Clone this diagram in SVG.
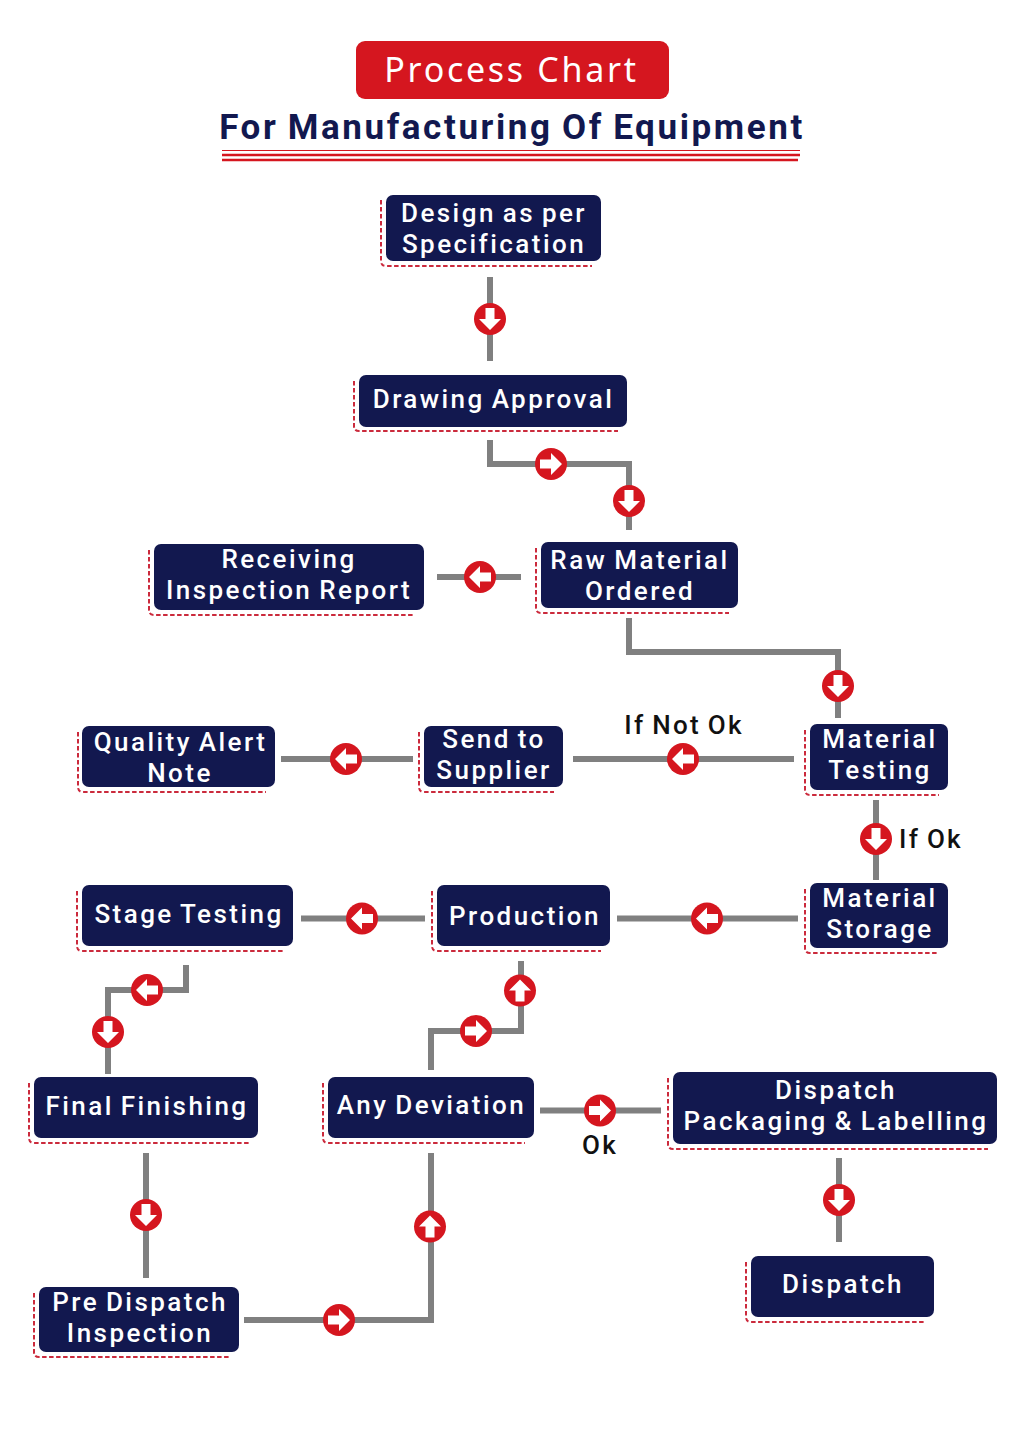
<svg xmlns="http://www.w3.org/2000/svg" xmlns:xlink="http://www.w3.org/1999/xlink" width="1024" height="1448" viewBox="0 0 1024 1448">
<style>
text{font-family:Roboto,"Liberation Sans",sans-serif;text-anchor:middle}
.box{fill:#12184f}
.dash{fill:none;stroke:#cb2a3c;stroke-width:2;stroke-dasharray:4.500 2.500}
.t{fill:#fff;font-size:26px;font-weight:500;letter-spacing:2.45px;word-spacing:-2px}
.l{fill:#111;font-size:26px;font-weight:500;letter-spacing:2.3px;word-spacing:-2px}
.c{fill:none;stroke:#808080;stroke-width:6}
</style>
<defs>
<g id="down"><circle r="16" fill="#d5161f"/><path d="M-4.500-11H4.500V0H11L0 11L-11 0H-4.500Z" fill="#fff"/></g>
</defs>
<rect width="1024" height="1448" fill="#fff"/>
<g id="title">
<rect x="356" y="41" width="313" height="58" rx="9" fill="#d5161f"/>
<text x="511.500" y="82" font-size="34" letter-spacing="2.700" fill="#fff" style="font-family:'Noto Sans',sans-serif">Process Chart</text>
<text x="512" y="138.500" font-size="35" font-weight="700" letter-spacing="2.600" word-spacing="-2" fill="#12184f">For Manufacturing Of Equipment</text>
<path d="M222 150.500H800" stroke="#d5161f" fill="none"/>
<path d="M222 155H800M222 160H798" stroke="#d5161f" stroke-width="2.500" fill="none"/>
</g>
<g id="connectors">
<path class="c" d="M490 277V361"/>
<path class="c" d="M490 440V464H629V530"/>
<path class="c" d="M521 577H437"/>
<path class="c" d="M629 618V652H838V718"/>
<path class="c" d="M794 759H573"/>
<path class="c" d="M413 759H281"/>
<path class="c" d="M876 800V880"/>
<path class="c" d="M798 918.500H617"/>
<path class="c" d="M425 918.500H301"/>
<path class="c" d="M186 965V990H108V1074"/>
<path class="c" d="M431 1070V1031H521V961"/>
<path class="c" d="M540 1110.500H661"/>
<path class="c" d="M839 1158V1242"/>
<path class="c" d="M146 1153V1278"/>
<path class="c" d="M244 1320H431V1153"/>
<use xlink:href="#down" href="#down" transform="translate(490 319)"/>
<use xlink:href="#down" href="#down" transform="translate(551 464) rotate(-90)"/>
<use xlink:href="#down" href="#down" transform="translate(629 501)"/>
<use xlink:href="#down" href="#down" transform="translate(480 577) rotate(90)"/>
<use xlink:href="#down" href="#down" transform="translate(838 686)"/>
<use xlink:href="#down" href="#down" transform="translate(683 759) rotate(90)"/>
<use xlink:href="#down" href="#down" transform="translate(346 759) rotate(90)"/>
<use xlink:href="#down" href="#down" transform="translate(876 839)"/>
<use xlink:href="#down" href="#down" transform="translate(707 918.500) rotate(90)"/>
<use xlink:href="#down" href="#down" transform="translate(362 918.500) rotate(90)"/>
<use xlink:href="#down" href="#down" transform="translate(147 990) rotate(90)"/>
<use xlink:href="#down" href="#down" transform="translate(108 1032)"/>
<use xlink:href="#down" href="#down" transform="translate(476 1031) rotate(-90)"/>
<use xlink:href="#down" href="#down" transform="translate(520 990.500) rotate(180)"/>
<use xlink:href="#down" href="#down" transform="translate(600 1110.500) rotate(-90)"/>
<use xlink:href="#down" href="#down" transform="translate(839 1200)"/>
<use xlink:href="#down" href="#down" transform="translate(146 1215)"/>
<use xlink:href="#down" href="#down" transform="translate(339 1320) rotate(-90)"/>
<use xlink:href="#down" href="#down" transform="translate(430 1226.500) rotate(180)"/>
<text class="l" x="684" y="734">If Not Ok</text>
<text class="l" x="931" y="848">If Ok</text>
<text class="l" x="600" y="1154">Ok</text>
</g>
<g id="n1"><path class="dash" d="M381 200V261Q381 266 386 266H592"/><rect class="box" x="386" y="195" width="215" height="66" rx="7"/><text class="t" x="494" y="222">Design as per</text><text class="t" x="494" y="253">Specification</text></g>
<g id="n2"><path class="dash" d="M354 381V426Q354 431 359 431H618"/><rect class="box" x="359" y="375" width="268" height="52" rx="7"/><text class="t" x="493.500" y="408">Drawing Approval</text></g>
<g id="n3"><path class="dash" d="M536 548V608Q536 613 541 613H729"/><rect class="box" x="541" y="542" width="197" height="66" rx="7"/><text class="t" x="640" y="569">Raw Material</text><text class="t" x="640" y="600">Ordered</text></g>
<g id="n4"><path class="dash" d="M149 550V610Q149 615 154 615H415"/><rect class="box" x="154" y="544" width="270" height="66" rx="7"/><text class="t" x="289" y="568">Receiving</text><text class="t" x="289" y="599">Inspection Report</text></g>
<g id="n5"><path class="dash" d="M78 732V787Q78 792 83 792H266"/><rect class="box" x="82" y="726" width="193" height="61" rx="7"/><text class="t" x="180.500" y="751">Quality Alert</text><text class="t" x="180" y="782">Note</text></g>
<g id="n6"><path class="dash" d="M419 732V787Q419 792 424 792H554"/><rect class="box" x="424" y="726" width="139" height="61" rx="7"/><text class="t" x="494" y="748">Send to</text><text class="t" x="494" y="779">Supplier</text></g>
<g id="n7"><path class="dash" d="M805 730V790Q805 795 810 795H939"/><rect class="box" x="810" y="724" width="138" height="66" rx="7"/><text class="t" x="880" y="748">Material</text><text class="t" x="880" y="779">Testing</text></g>
<g id="n8"><path class="dash" d="M805 889V948Q805 953 810 953H939"/><rect class="box" x="810" y="883" width="138" height="65" rx="7"/><text class="t" x="880" y="907">Material</text><text class="t" x="880" y="938">Storage</text></g>
<g id="n9"><path class="dash" d="M77 891V946Q77 951 82 951H284"/><rect class="box" x="82" y="885" width="211" height="61" rx="7"/><text class="t" x="189" y="923">Stage Testing</text></g>
<g id="n10"><path class="dash" d="M432 891V946Q432 951 437 951H601"/><rect class="box" x="437" y="885" width="173" height="61" rx="7"/><text class="t" x="525" y="925">Production</text></g>
<g id="n11"><path class="dash" d="M29 1083V1138Q29 1143 34 1143H249"/><rect class="box" x="34" y="1077" width="224" height="61" rx="7"/><text class="t" x="147" y="1115">Final Finishing</text></g>
<g id="n12"><path class="dash" d="M323 1083V1138Q323 1143 328 1143H525"/><rect class="box" x="328" y="1077" width="206" height="61" rx="7"/><text class="t" x="431.500" y="1114">Any Deviation</text></g>
<g id="n13"><path class="dash" d="M668 1078V1144Q668 1149 673 1149H988"/><rect class="box" x="673" y="1072" width="324" height="72" rx="7"/><text class="t" x="836" y="1099">Dispatch</text><text class="t" x="836" y="1130">Packaging &amp; Labelling</text></g>
<g id="n14"><path class="dash" d="M746 1262V1317Q746 1322 751 1322H925"/><rect class="box" x="751" y="1256" width="183" height="61" rx="7"/><text class="t" x="843" y="1293">Dispatch</text></g>
<g id="n15"><path class="dash" d="M34 1293V1352Q34 1357 39 1357H230"/><rect class="box" x="39" y="1287" width="200" height="65" rx="7"/><text class="t" x="140" y="1311">Pre Dispatch</text><text class="t" x="140" y="1342">Inspection</text></g>
</svg>
